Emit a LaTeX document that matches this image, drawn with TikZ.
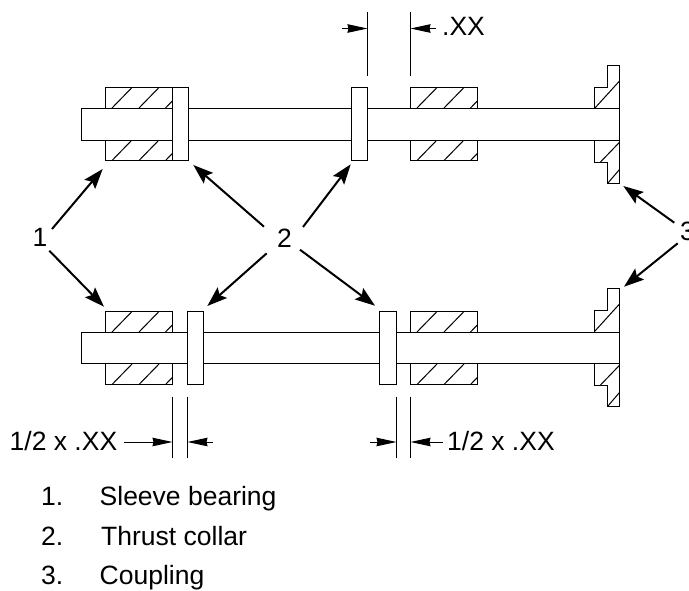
\documentclass[tikz,border=0pt]{standalone}
\usepackage{fontspec}
\setmainfont{Liberation Sans}
\usetikzlibrary{arrows.meta}
\newcommand{\sleevepart}[2]{%
  \draw[part] (#1,#2) rectangle ++(67,73);
  \draw[hatchline] (#1+6.5,#2+20.5) -- ++(20,-20.5);
  \draw[hatchline] (#1+33.5,#2+20.5) -- ++(20,-20.5);
  \draw[hatchline] (#1+60,#2+20.5) -- ++(7,-7.2);
  \draw[hatchline] (#1+6.5,#2+73) -- ++(20,-20.5);
  \draw[hatchline] (#1+33.5,#2+73) -- ++(20,-20.5);
  \draw[hatchline] (#1+60,#2+73) -- ++(7,-7.2);
}
\newcommand{\couplingpart}[1]{% #1 = y of flange top
  \draw[part] (619.5,#1) -- (607.5,#1) -- (607.5,#1+22) -- (594.5,#1+22) -- (594.5,#1+97)
     -- (607.5,#1+97) -- (607.5,#1+118) -- (619.5,#1+118) -- cycle;
  \draw[hatchline] (594.5,#1+43) -- (619.5,#1+15.5);
  \draw[hatchline] (600,#1+97) -- (619.5,#1+76.8);
  \draw[hatchline] (607.5,#1+118) -- (619.5,#1+104);
}
\tikzset{
  part/.style={line width=1.15pt,line join=miter},
  hatchline/.style={line width=1pt},
  bodyline/.style={line width=1.15pt,fill=white},
  extline/.style={line width=1pt},
  leader/.style={line width=2pt,-{Stealth[length=20pt,width=14pt,inset=3.5pt]}},
  dimline/.style={line width=1pt,-{Stealth[length=20pt,width=8.5pt,inset=1pt]}},
  txt/.style={inner sep=0pt,font=\fontsize{26.5}{30}\selectfont},
}
\begin{document}
\begin{tikzpicture}[x=1pt,y=-1pt]
\useasboundingbox (0,0) rectangle (689,590);
% top assembly
\sleevepart{105.5}{87.5}
\sleevepart{410.5}{87.5}
\couplingpart{65.5}
\draw[bodyline] (81.5,108.5) rectangle (619.5,140.5);
\draw[bodyline] (172.5,87.5) rectangle (188.5,160.5);
\draw[bodyline] (351.5,87.5) rectangle (367.5,160.5);
% lower assembly
\sleevepart{105.5}{311.5}
\sleevepart{410.5}{311.5}
\couplingpart{288.5}
\draw[bodyline] (81.5,332.5) rectangle (619.5,363.5);
\draw[bodyline] (187.5,311.5) rectangle (203.5,384.5);
\draw[bodyline] (379.5,311.5) rectangle (396.5,384.5);
% extension lines
\draw[extline] (367.5,12) -- (367.5,76);
\draw[extline] (410.5,12) -- (410.5,76);
\draw[extline] (172.5,396.7) -- (172.5,458.3);
\draw[extline] (187.5,396.7) -- (187.5,458.3);
\draw[extline] (396.5,396.7) -- (396.5,458.3);
\draw[extline] (410.5,396.7) -- (410.5,458.3);
% dimension tips and tails
\coordinate (da1) at (342,28.5);   \coordinate (da2) at (367.5,28.5);
\coordinate (db1) at (436,28.5);   \coordinate (db2) at (410.5,28.5);
\coordinate (dc1) at (124.3,442);  \coordinate (dc2) at (172.5,442);
\coordinate (dd1) at (212.7,442);  \coordinate (dd2) at (187.5,442);
\coordinate (de1) at (370.3,442);  \coordinate (de2) at (396.5,442);
\coordinate (df1) at (442.7,442);  \coordinate (df2) at (410.5,442);
\foreach \n in {a,b,c,d,e,f}{\draw[dimline] (d\n1) -- (d\n2);}
% dimension text
\node[txt,anchor=base west] (dimtop) at (442,35.7) {.XX};
\node[txt,anchor=base west] (dimleft) at (9.5,450) {1/2 x .XX};
\node[txt,anchor=base west] (dimright) at (447,450) {1/2 x .XX};
% callout numbers
\node[txt,anchor=base] (one) at (40,246) {1};
\node[txt,anchor=base] (two) at (284.5,247.5) {2};
\node[txt,anchor=base west] (three) at (680,240) {3};
% leader tips
\coordinate (ta) at (102.7,169);
\coordinate (tb) at (104,306.7);
\coordinate (tc) at (193.3,165);
\coordinate (td) at (350.7,164.3);
\coordinate (te) at (207.3,306);
\coordinate (tf) at (375,305.7);
\coordinate (tg) at (623.3,186);
\coordinate (th) at (624,286.7);
\draw[leader] ([shift={(12,-17)}]one.base) -- (ta);
\draw[leader] ([shift={(9.3,4.7)}]one.base) -- (tb);
\draw[leader] ([shift={(-20.5,-20.8)}]two.base) -- (tc);
\draw[leader] ([shift={(18.5,-20.5)}]two.base) -- (td);
\draw[leader] ([shift={(-17.8,5.8)}]two.base) -- (te);
\draw[leader] ([shift={(15.5,2.2)}]two.base) -- (tf);
\draw[leader] ([shift={(-5.7,-17.3)}]three.base west) -- (tg);
\draw[leader] ([shift={(-2.3,3.3)}]three.base west) -- (th);
% legend
\node[txt,anchor=base west] (n1) at (41,505) {1.};
\node[txt,anchor=base west] (n2) at (41,545) {2.};
\node[txt,anchor=base west] (n3) at (41,584) {3.};
\node[txt,anchor=base west] (l1) at (99.5,505) {Sleeve bearing};
\node[txt,anchor=base west] (l2) at (101,545) {Thrust collar};
\node[txt,anchor=base west] (l3) at (99.5,584) {Coupling};
\end{tikzpicture}
\end{document}
